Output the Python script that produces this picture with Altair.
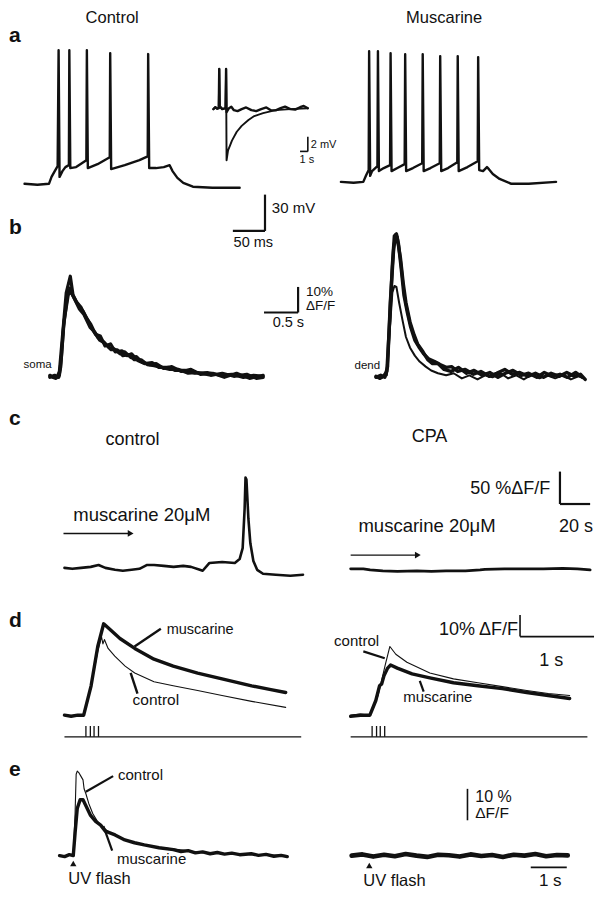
import altair as alt
import pandas as pd

# ------------------------------------------------------------------
# DATA (physical units)
# ------------------------------------------------------------------
# a: somatic membrane potential, time (ms) / potential (mV)
a_control_ms = [0, 20, 38, 42, 47, 51.5, 53, 54.5, 59, 63.6, 69, 69.7, 71.2, 80.3, 96.2, 97, 98.5, 113.6,
                132.6, 133.3, 134.8, 156, 178.8, 191.7, 192.4, 194, 204.5, 216.7, 225.8, 230.3, 237.9,
                247, 262, 292.4, 334.8]
a_control_mv = [-70, -70.8, -70, -64.3, -59.5, -55.4, 40.3, -64.3, -59.5, -56.2, -54.6, 40.3, -57, -56.2,
                -50.5, 40.3, -57, -53.8, -48.1, 37.9, -57.8, -54.6, -50.5, -47.3, 37.1, -57, -57, -56.2,
                -54.6, -59.5, -65.1, -69.2, -72.4, -73.2, -73.2]
a_musc_ms = [0, 19.7, 34.8, 39.4, 43.2, 43.9, 45.5, 48.5, 56.8, 57.6, 59.1, 66.7, 76.5, 77.3, 78.8, 87.9,
             99.2, 100, 101.5, 112.1, 126.5, 127.3, 128.8, 139.4, 153.8, 154.5, 156.1, 166.7, 181.1,
             181.8, 183.3, 197, 212.9, 213.6, 215.2, 221.2, 227.3, 230.3, 236.4, 247, 265.2, 292.4, 334.8]
a_musc_mv = [-70, -70.8, -70, -64.3, -60.3, 37.9, -65.1, -61.1, -57, 37.9, -61.1, -58.6, -56.2, 36.2,
             -61.1, -58.6, -55.4, 35.4, -61.1, -58.6, -54.6, 35.4, -61.1, -58.6, -54.6, 33.8, -61.1,
             -58.6, -53.8, 33.8, -61.1, -57.8, -53, 33, -60.3, -61.1, -57.8, -59.5, -63.5, -67.6,
             -71.6, -71.6, -70]
# a inset: afterhyperpolarisation, time (s) / potential (mV, relative)
inset_ahp_s = [0, 0.25, 0.5, 0.69, 0.75, 0.81, 1.13, 1.56, 1.63, 1.69, 1.88, 2.13, 2.38, 3, 3.63, 4.5,
               5.25, 6.38, 8, 9.88, 12.1]
inset_ahp_mv = [-0.13, 0.13, -0.07, 0, 5.33, 0.27, -0.13, 0, 5.33, -7.07, -5.73, -5.07, -4.4, -3.2,
                -2.4, -1.6, -1.07, -0.67, -0.27, -0.13, 0]
inset_flat_s = [0, 0.25, 0.5, 0.69, 0.75, 0.81, 1.13, 1.56, 1.63, 1.69, 2.0, 2.3, 2.63, 3.1, 3.63, 4.2,
                4.88, 5.5, 6.13, 6.8, 7.38, 8.0, 8.63, 9.2, 9.88, 10.5, 11.13, 11.6, 12.13]
inset_flat_mv = [-0.13, 0.13, -0.07, 0, 5.33, 0.27, -0.13, 0, 5.33, -0.53, 0, 0.2, -0.27, -0.4, -0.13,
                 0.1, -0.27, -0.4, -0.13, 0.1, -0.27, -0.3, 0, 0.2, -0.13, -0.2, 0.13, 0.3, 0]

# b: Ca transients, time (s) / dF/F (%)
soma1_s = [0, 0.06, 0.11, 0.14, 0.19, 0.24, 0.3, 0.34, 0.39, 0.46, 0.53, 0.6, 0.67, 0.74, 0.81, 0.89,
           0.96, 1.06, 1.13, 1.2, 1.29, 1.39, 1.5, 1.6, 1.74, 1.84, 1.99, 2.13, 2.31, 2.5, 2.67, 2.84,
           2.99, 3.13]
soma1_f = [0.4, -0.4, 0, 1.9, 17.3, 32.7, 39.2, 31.9, 29.2, 26.9, 23.1, 20.4, 16.5, 15.8, 11.9, 12.7,
           9.6, 10, 8.1, 8.8, 6.2, 5, 5.4, 3.5, 3.5, 2.3, 2.3, 1.2, 1.5, 0.4, 0.8, -0.4, 0.4, 0]
soma2_s = [0, 0.07, 0.13, 0.16, 0.2, 0.26, 0.3, 0.34, 0.41, 0.49, 0.56, 0.64, 0.71, 0.79, 0.87, 0.94,
           1.03, 1.1, 1.19, 1.27, 1.36, 1.46, 1.56, 1.67, 1.79, 1.93, 2.07, 2.21, 2.39, 2.56, 2.74,
           2.93, 3.13]
soma2_f = [-0.4, 0.4, -0.4, 3.8, 19.2, 31.9, 34.6, 31.5, 28.1, 25.4, 21.9, 17.7, 15, 13.5, 11.2, 10.8,
           8.8, 9.6, 7.3, 7.7, 5.4, 4.6, 5, 3.1, 3.8, 1.9, 2.7, 0.8, 1.2, -0.4, 1.2, -0.8, 0.4]
soma3_s = [0, 0.09, 0.14, 0.17, 0.21, 0.27, 0.31, 0.36, 0.43, 0.5, 0.59, 0.66, 0.73, 0.8, 0.9, 0.99,
           1.07, 1.16, 1.24, 1.34, 1.43, 1.53, 1.64, 1.76, 1.89, 2.03, 2.17, 2.36, 2.53, 2.7, 2.89,
           3.03, 3.13]
soma3_f = [0, -0.8, 0.4, 7.7, 21.9, 31.9, 33.1, 30.4, 26.5, 24.2, 19.2, 17.3, 14.2, 13.1, 10.4, 10.4,
           8.1, 8.5, 6.5, 6.5, 4.6, 4.2, 3.5, 2.7, 2.7, 1.2, 1.5, 0.4, 1.2, 0, 0.8, -0.8, -0.4]
dend1_s = [0, 0.06, 0.11, 0.16, 0.2, 0.24, 0.27, 0.3, 0.33, 0.37, 0.41, 0.46, 0.51, 0.57, 0.63, 0.7,
           0.77, 0.86, 0.94, 1.03, 1.11, 1.2, 1.31, 1.43, 1.54, 1.66, 1.77, 1.89, 2, 2.11, 2.23, 2.34,
           2.46, 2.57, 2.69, 2.8, 2.91, 3, 3.07]
dend1_f = [0, -0.8, 0, 1.9, 21.2, 43.5, 55, 55.8, 51.9, 42.3, 31.9, 25, 19.2, 14.2, 11.5, 8.8, 6.9, 5.8,
           4.6, 3.5, 3.8, 1.9, 2.7, 0.8, 1.9, 0, 1.2, 2.7, 0.8, 1.5, 0, 1.2, -0.4, 1.2, 0, 1.5, 0, 0.8,
           -1.2]
dend2_s = [0, 0.07, 0.13, 0.17, 0.21, 0.26, 0.29, 0.31, 0.36, 0.4, 0.44, 0.5, 0.56, 0.61, 0.69, 0.76,
           0.83, 0.91, 1, 1.1, 1.21, 1.33, 1.44, 1.56, 1.67, 1.79, 1.9, 2.01, 2.13, 2.24, 2.36, 2.47,
           2.59, 2.7, 2.81, 2.93, 3.03]
dend2_f = [-0.4, 0.4, -0.4, 3.8, 28.8, 50, 55.4, 54.6, 46.2, 36.5, 28.8, 21.2, 16.2, 12.7, 9.6, 6.5, 5,
           5, 2.7, 1.9, 3.5, 1.2, 2.3, 0.4, 1.5, -0.4, 1.2, 2.3, 0.4, 1.2, -0.4, 1.5, 0, 0.8, -0.4, 1.5,
           -0.4]
dend3_s = [0, 0.09, 0.16, 0.2, 0.24, 0.27, 0.3, 0.34, 0.39, 0.44, 0.5, 0.57, 0.64, 0.73, 0.81, 0.91,
           1.03, 1.14, 1.26, 1.37, 1.49, 1.6, 1.71, 1.83, 1.94, 2.06, 2.17, 2.29, 2.4, 2.51, 2.63, 2.74,
           2.86, 2.97, 3.06]
dend3_f = [0, -0.4, 0.4, 17.3, 32.7, 35.4, 35, 28.8, 21.9, 15.4, 11.2, 8.1, 5.8, 3.8, 2.3, 1.2, 0.4, 1.2,
           -0.8, 0.4, -1.2, 0.4, -0.4, 1.2, -0.8, 0.4, -1.2, 0.8, -0.8, 0.4, -0.8, 0.4, -1.2, 0, -0.8]

# c: muscarine application, time (s) / dF/F (%)
c_ctrl_s = [0, 5.2, 11, 17.4, 22.6, 27.1, 33.5, 38.7, 44.5, 49.7, 54.8, 59.4, 65.8, 72.3, 78.7, 83.9,
            89.7, 91.6, 96.1, 104.5, 112.9, 116.1, 118.1, 119.4, 120, 120.6, 121.9, 123.2, 125.2,
            127.7, 131.6, 140, 149.7, 158.1]
c_ctrl_f = [0, -1.5, 0, 1.5, 4.5, 0, -3, -4.5, -3, -1.5, 4.5, 4.5, 3, 1.5, 3, 1.5, -3, -4.5, 7.6, 9.1,
            7.6, 13.6, 30.3, 90.9, 139.4, 136.4, 75.8, 37.9, 10.6, -3, -9.1, -10.6, -12.1, -10.6]
c_cpa_s = [0, 8.4, 12.9, 21.3, 31, 43.9, 53.5, 63.2, 76.1, 85.8, 89, 101.9, 114.8, 127.7, 140.6, 150.3,
           158.7]
c_cpa_f = [0, 0, -1.5, -3, -3.8, -3, -3.8, -3, -3, -1.5, -0.8, 0, 0, 0, 0.8, 0, -1.5]

# d: synaptically evoked transients, time (s) / dF/F (%)
d_l_musc_s = [0, 0.09, 0.18, 0.26, 0.36, 0.45, 0.53, 0.62, 0.75, 0.95, 1.21, 1.47, 1.8, 2.13, 2.53,
              2.79, 2.99]
d_l_musc_f = [0, -0.5, 0, 0, 13.6, 31.8, 42.3, 39.5, 35.5, 30.9, 25.9, 22.7, 19.5, 16.8, 13.6, 11.8,
              10.5]
d_l_ctrl_s = [0, 0.09, 0.18, 0.26, 0.36, 0.45, 0.5, 0.52, 0.54, 0.59, 0.68, 0.82, 0.95, 1.21, 1.47,
              1.8, 2.13, 2.53, 2.99]
d_l_ctrl_f = [0, -0.5, 0, 0, 13.6, 29.5, 36.4, 33, 35, 30.9, 27.3, 22.7, 19.5, 15.5, 13.6, 11.4, 9.1,
              6.4, 3.6]
d_r_ctrl_s = [0, 0.13, 0.26, 0.37, 0.47, 0.53, 0.61, 0.76, 1.07, 1.39, 1.72, 2.05, 2.38, 2.67, 2.96]
d_r_ctrl_f = [0, 0.5, 0, 9.1, 23.6, 31.8, 28.2, 24.5, 19.5, 16.8, 15, 13.2, 11.4, 10, 9.1]
d_r_musc_s = [0, 0.13, 0.26, 0.34, 0.39, 0.42, 0.45, 0.5, 0.54, 0.63, 0.83, 1.07, 1.39, 1.72, 2.05,
              2.38, 2.67, 2.96]
d_r_musc_f = [-0.5, 0, 0, 6.8, 13.6, 14.5, 18.2, 21.8, 23.2, 21.8, 19.1, 17.3, 15, 13.6, 12.3, 10.5,
              9.1, 7.7]
stim_s = [0.29, 0.35, 0.40, 0.46]
stim_span_s = [0, 3.2]

# e: UV flash photolysis, time (s) / dF/F (%)
e_musc_s = [0, 0.14, 0.27, 0.38, 0.43, 0.49, 0.57, 0.65, 0.73, 0.86, 1.0, 1.14, 1.27, 1.54, 1.81, 2.08,
            2.35, 2.76, 3.16, 3.37, 3.57, 3.77, 3.97, 4.18, 4.38, 4.58, 4.78, 5.0, 5.32, 5.52, 5.73,
            5.95, 6.15, 6.32]
e_musc_f = [0, -0.3, 0.3, 0, 7.2, 15, 17.8, 17.8, 15.9, 12.8, 10.9, 9.7, 7.8, 6.6, 5, 4.1, 3.4, 2.5,
            1.9, 1.3, 1.6, 0.9, 1.2, 0.6, 1.0, 0.5, 0.8, 0.3, 0.6, 0.1, 0.4, -0.2, 0.1, -0.3]
e_ctrl_s = [0, 0.14, 0.27, 0.38, 0.43, 0.46, 0.49, 0.54, 0.59, 0.65, 0.68, 0.73, 0.81, 0.92, 1.05,
            1.22, 1.41, 1.68, 2.08, 2.62, 3.3, 3.97, 4.78, 5.59, 6.32]
e_ctrl_f = [0, -0.3, 0.3, 0, 13.4, 25.9, 26.9, 26.3, 25.3, 24.1, 21.3, 19.7, 16.6, 13.4, 10.9, 8.8, 7.2,
            5.6, 4.1, 2.8, 1.9, 0.9, 0.6, 0.3, 0]
e_cpa_s = [0, 0.3, 0.6, 0.9, 1.2, 1.5, 1.8, 2.1, 2.4, 2.7, 3.0, 3.3, 3.6, 3.9, 4.2, 4.5, 4.8, 5.1, 5.4,
           5.7, 6.0]
e_cpa_f = [0, 0.4, -0.3, 0.3, -0.2, 0.5, 0, -0.4, 0.3, 0.1, -0.3, 0.4, -0.1, 0.2, -0.4, 0.3, 0, 0.5,
           -0.2, 0.2, 0.1]
flash_left_s = [0.38]
flash_right_s = [0.49]

# scale bars (time unit, value unit)
bar_a = (50, 30)        # 50 ms, 30 mV
bar_inset = (1, 2)      # 1 s, 2 mV
bar_b = (0.5, 10)       # 0.5 s, 10 %
bar_c = (20, 50)        # 20 s, 50 %
bar_d = (1, 10)         # 1 s, 10 %
bar_e = (1, 10)         # 1 s, 10 %

# ------------------------------------------------------------------
# LAYOUT
# ------------------------------------------------------------------
W, H = 587, 883
SX, SY = W / 603.0, H / 899.0
INK = "#111111"
FONT = "Liberation Sans"


def X(p):
    return p * SX


def Y(p):
    return p * SY


def frame(x0, xu, xpx, y0, yu, ypx, v0=0.0):
    xs = alt.Scale(domain=[0, xu], range=[X(x0), X(x0 + xpx)], nice=False, zero=False)
    ys = alt.Scale(domain=[v0, v0 + yu], range=[Y(y0), Y(y0 - ypx)], nice=False, zero=False)
    return xs, ys


def trace(ts, vs, fr, width):
    xs, ys = fr
    df = pd.DataFrame({"t": ts, "v": vs, "i": list(range(len(ts)))})
    return alt.Chart(df).mark_line(color=INK, strokeWidth=width, strokeJoin="round",
                                   strokeCap="round").encode(
        x=alt.X("t:Q", scale=xs, axis=None),
        y=alt.Y("v:Q", scale=ys, axis=None),
        order=alt.Order("i:Q"),
    )


def scalebar(segs, fr, width=2.0):
    xs, ys = fr
    df = pd.DataFrame(segs, columns=["t", "v", "t2", "v2"])
    return alt.Chart(df).mark_rule(color=INK, strokeWidth=width).encode(
        x=alt.X("t:Q", scale=xs, axis=None), x2="t2:Q",
        y=alt.Y("v:Q", scale=ys, axis=None), y2="v2:Q",
    )


def label(txt, x, y, size=14, align="left", weight="normal"):
    return alt.Chart(pd.DataFrame({"k": [0]})).mark_text(
        text=txt, font=FONT, fontSize=size, fontWeight=weight, align=align,
        baseline="alphabetic", color=INK,
    ).encode(x=alt.value(X(x)), y=alt.value(Y(y)))


def seg(x1, y1, x2, y2, width=2.0):
    return alt.Chart(pd.DataFrame({"k": [0]})).mark_rule(color=INK, strokeWidth=width).encode(
        x=alt.value(X(x1)), y=alt.value(Y(y1)), x2=alt.value(X(x2)), y2=alt.value(Y(y2)))


def arrowhead(x, y, size=45):
    return alt.Chart(pd.DataFrame({"k": [0]})).mark_point(
        shape="triangle-right", filled=True, color=INK, size=size, opacity=1).encode(
        x=alt.value(X(x)), y=alt.value(Y(y)))


def stim(times, span, fr, ytop, ybot):
    xs, _ = fr
    ticks = alt.Chart(pd.DataFrame({"t": times})).mark_rule(color=INK, strokeWidth=1.3).encode(
        x=alt.X("t:Q", scale=xs, axis=None), y=alt.value(Y(ytop)), y2=alt.value(Y(ybot)))
    base = alt.Chart(pd.DataFrame({"t": [span[0]], "t2": [span[1]]})).mark_rule(
        color=INK, strokeWidth=1.2).encode(
        x=alt.X("t:Q", scale=xs, axis=None), x2="t2:Q", y=alt.value(Y(ybot)))
    return [ticks, base]


def flash(times, fr, ypix):
    xs, _ = fr
    return alt.Chart(pd.DataFrame({"t": times})).mark_point(
        shape="triangle-up", filled=True, color=INK, size=40, opacity=1).encode(
        x=alt.X("t:Q", scale=xs, axis=None), y=alt.value(Y(ypix)))


layers = []

# ---- panel a ----
fa_c = frame(17, 50, 33, 179, 30, 37, v0=-70)
fa_m = frame(342, 50, 33, 177, 30, 37, v0=-70)
fa_bar = frame(231, 50, 33, 227, 30, 37)
f_in = frame(211, 1, 8, 102, 2, 15)
f_in_bar = frame(300, 1, 8, 146, 2, 15)
layers += [
    trace(a_control_ms, a_control_mv, fa_c, 2.4),
    trace(a_musc_ms, a_musc_mv, fa_m, 2.4),
    trace(inset_flat_s, inset_flat_mv, f_in, 2.4),
    trace(inset_ahp_s, inset_ahp_mv, f_in, 1.9),
    scalebar([(0, 0, bar_a[0], 0), (bar_a[0], 0, bar_a[0], bar_a[1])], fa_bar, 2.2),
    scalebar([(0, 0, bar_inset[0], 0), (bar_inset[0], 0, bar_inset[0], bar_inset[1])], f_in_bar, 1.6),
    label("Control", 107, 15, 16.5, "center"),
    label("Muscarine", 448, 15, 16.5, "center"),
    label("a", 1, 35, 21, "left", "bold"),
    label("2 mV", 311, 143, 11),
    label("1 s", 307, 158, 11, "center"),
    label("30 mV", 271, 209, 15),
    label("50 ms", 252, 243, 14.5, "center"),
]

# ---- panel b ----
fb_s = frame(43, 0.5, 35, 375, 10, 26)
fb_d = frame(378, 0.5, 35, 375, 10, 26)
fb_bar = frame(263, 0.5, 35, 310, 10, 26)
layers += [
    trace(soma1_s, soma1_f, fb_s, 3.2),
    trace(soma2_s, soma2_f, fb_s, 3.2),
    trace(soma3_s, soma3_f, fb_s, 3.2),
    trace(dend3_s, dend3_f, fb_d, 2.0),
    trace(dend1_s, dend1_f, fb_d, 3.4),
    trace(dend2_s, dend2_f, fb_d, 3.4),
    scalebar([(0, 0, bar_b[0], 0), (bar_b[0], 0, bar_b[0], bar_b[1])], fb_bar, 2.2),
    label("b", 1, 230, 21, "left", "bold"),
    label("10%", 306, 293, 13.5),
    label("ΔF/F", 306, 307, 13.5),
    label("0.5 s", 288, 325, 14.5, "center"),
    label("soma", 16, 367, 11.5),
    label("dend", 356, 368, 11.5),
]

# ---- panel c ----
fc_c = frame(58, 20, 31, 570, 50, 33)
fc_p = frame(352, 20, 31, 571, 50, 33)
fc_bar = frame(567, 20, 31, 505, 50, 33)
layers += [
    trace(c_ctrl_s, c_ctrl_f, fc_c, 2.6),
    trace(c_cpa_s, c_cpa_f, fc_p, 2.8),
    scalebar([(0, 0, bar_c[0], 0), (0, 0, 0, bar_c[1])], fc_bar, 2.2),
    label("c", 1, 425, 21, "left", "bold"),
    label("control", 128, 445, 18, "center"),
    label("CPA", 433, 442, 18, "center"),
    label("muscarine 20μM", 67, 522, 18.5),
    label("muscarine 20μM", 360, 533, 18.5),
    label("50 %ΔF/F", 557, 495, 18, "right"),
    label("20 s", 566, 533, 18),
    seg(57, 535, 124, 535, 1.4),
    arrowhead(126, 535),
    seg(352, 557, 419, 557, 1.4),
    arrowhead(421, 557),
]

# ---- panel d ----
fd_l = frame(58, 1, 76, 720, 10, 22)
fd_r = frame(352, 1, 76, 720, 10, 22)
fd_bar = frame(526, 1, 76, 640, 10, 22)
layers += [
    trace(d_l_ctrl_s, d_l_ctrl_f, fd_l, 1.1),
    trace(d_l_musc_s, d_l_musc_f, fd_l, 3.4),
    trace(d_r_ctrl_s, d_r_ctrl_f, fd_r, 1.1),
    trace(d_r_musc_s, d_r_musc_f, fd_r, 3.4),
    scalebar([(0, 0, bar_d[0], 0), (0, 0, 0, bar_d[1])], fd_bar, 1.6),
]
layers += stim(stim_s, stim_span_s, fd_l, 731, 742)
layers += stim(stim_s, stim_span_s, fd_r, 731, 742)
layers += [
    label("d", 1, 630, 21, "left", "bold"),
    label("muscarine", 163, 637, 14.5),
    seg(157, 632, 130, 650, 2.4),
    label("control", 128, 710, 15.5),
    seg(126, 677, 133, 698, 2.4),
    label("10% ΔF/F", 524, 638, 18, "right"),
    label("1 s", 558, 670, 18, "center"),
    label("control", 335, 650, 15),
    seg(365, 655, 387, 662, 2.2),
    label("muscarine", 406, 707, 15),
    seg(423, 685, 427, 696, 2.2),
]

# ---- panel e ----
fe_l = frame(53, 1, 37, 863, 10, 32)
fe_r = frame(353, 1, 37, 863, 10, 32)
fe_vbar = frame(472, 1, 37, 827, 10, 32)
fe_hbar = frame(537, 1, 37, 875, 10, 32)
layers += [
    trace(e_ctrl_s, e_ctrl_f, fe_l, 1.1),
    trace(e_musc_s, e_musc_f, fe_l, 3.4),
    trace(e_cpa_s, e_cpa_f, fe_r, 4.6),
    flash(flash_left_s, fe_l, 871),
    flash(flash_right_s, fe_r, 873),
    scalebar([(0, 0, 0, bar_e[1])], fe_vbar, 1.6),
    scalebar([(0, 0, bar_e[0], 0)], fe_hbar, 1.8),
    label("e", 1, 782, 21, "left", "bold"),
    label("control", 113, 786, 15),
    seg(108, 782, 80, 798, 2.2),
    label("muscarine", 112, 872, 15),
    seg(107, 858, 98, 833, 2.2),
    label("UV flash", 62, 892, 16.5),
    label("UV flash", 365, 894, 16.5),
    label("10 %", 480, 808, 16),
    label("ΔF/F", 480, 825, 15.5),
    label("1 s", 557, 894, 17, "center"),
]

chart = alt.layer(*layers).resolve_scale(x="independent", y="independent").properties(
    width=W, height=H, padding=0,
    autosize=alt.AutoSizeParams(type="none"),
    background="white",
).configure_view(stroke=None)

chart.save("out.html", embed_options={"renderer": "svg", "actions": False})
